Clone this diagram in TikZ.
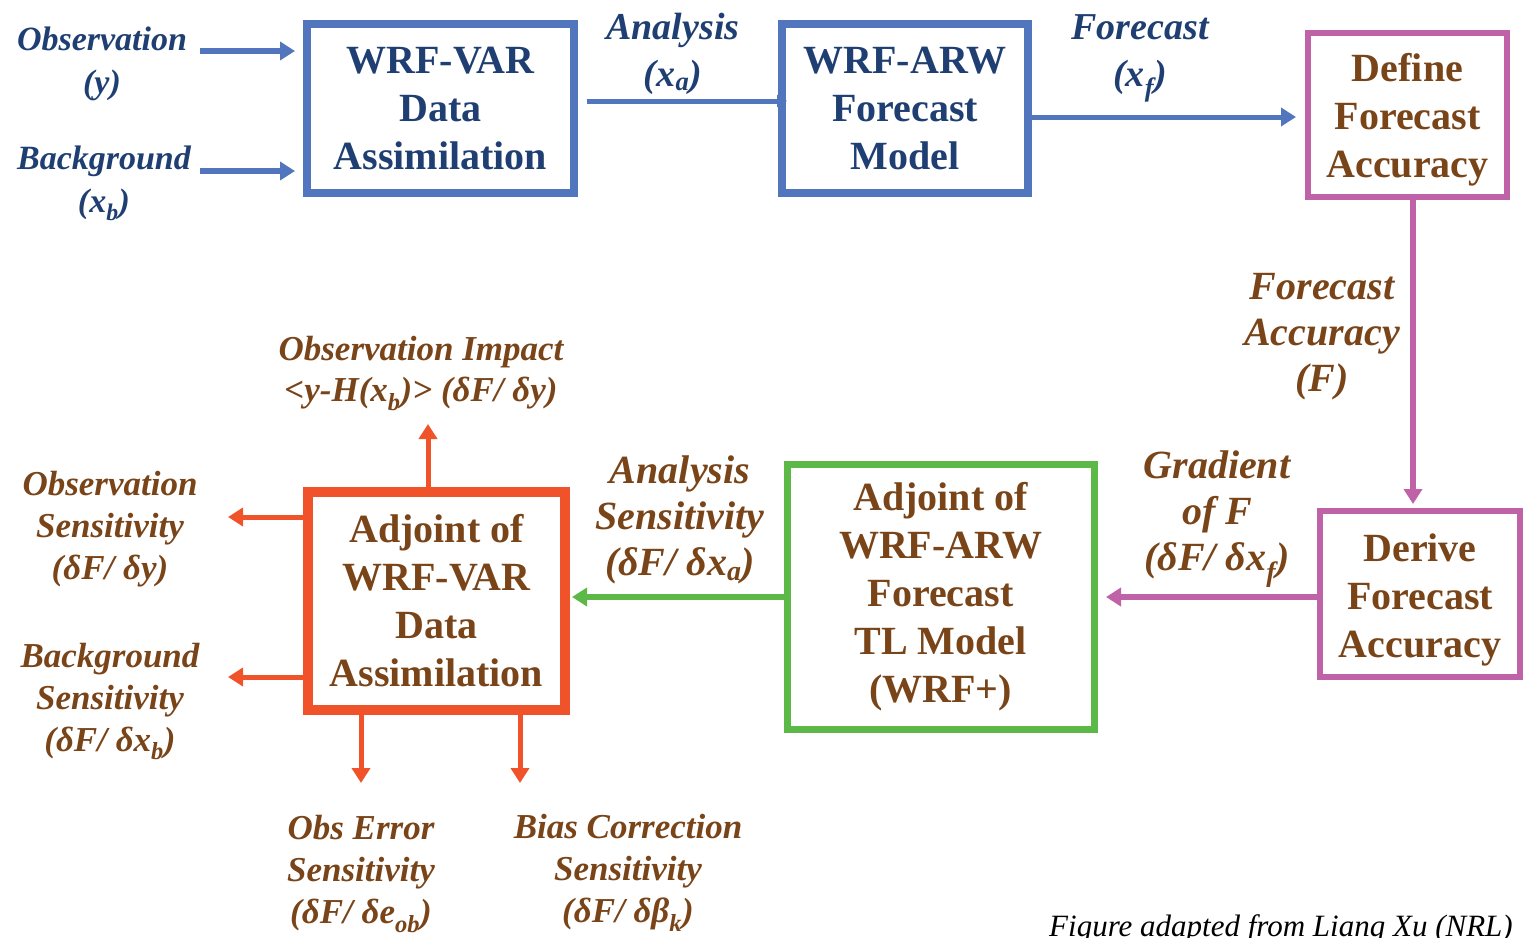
\documentclass[tikz,border=0pt]{standalone}
\usepackage{fontspec}
\setmainfont{Liberation Serif}
\usetikzlibrary{arrows.meta}
\definecolor{cblue}{HTML}{5176BD}
\definecolor{cnavy}{HTML}{1F3F73}
\definecolor{cbrown}{HTML}{7A4419}
\definecolor{cpink}{HTML}{C062A8}
\definecolor{cgreen}{HTML}{5CB947}
\definecolor{corange}{HTML}{F0522A}
\begin{document}
\begin{tikzpicture}[x=1pt,y=-1pt,
  box/.style={fill=white, outer sep=0pt, inner sep=0pt, align=center,
    font=\bfseries\fontsize{40}{48}\selectfont},
  boxtext/.style={inner sep=0pt, align=center, text=cbrown,
    font=\bfseries\fontsize{40}{48}\selectfont},
  lbl/.style={align=center, inner sep=0pt, text=cbrown,
    font=\bfseries\itshape\fontsize{40}{46}\selectfont},
  slbl/.style={align=center, inner sep=0pt, text=cbrown,
    font=\bfseries\itshape\fontsize{35}{42}\selectfont},
  blbl/.style={align=center, inner sep=0pt, text=cnavy,
    font=\bfseries\itshape\fontsize{35}{45}\selectfont},
  arr/.style={line width=6pt, -{Triangle[length=15pt,width=18pt]}},
]
\useasboundingbox (0,0) rectangle (1528,937);

% boxes
\node[box, draw=cblue, line width=8pt, text=cnavy, minimum width=267pt, minimum height=169pt]
  (wrfvar) at (440.5,108.5) {WRF-VAR\\Data\\Assimilation};
\node[box, draw=cblue, line width=8pt, text=cnavy, minimum width=246pt, minimum height=169pt]
  (wrfarw) at (905,108.5) {WRF-ARW\\Forecast\\Model};
\node[box, draw=cpink, line width=6pt, minimum width=199pt, minimum height=164pt]
  (define) at (1407.5,115) {};
\node[boxtext] (definetext) at ([yshift=-5pt]define.center) {Define\\Forecast\\Accuracy};
\node[box, draw=cpink, line width=6pt, minimum width=200pt, minimum height=166pt]
  (derive) at (1420,594) {};
\node[boxtext] (derivetext) at ([yshift=-6pt]derive.center) {Derive\\Forecast\\Accuracy};
\node[box, draw=cgreen, line width=7pt, text=cbrown, minimum width=307pt, minimum height=265pt]
  (tl) at (940.5,596.5) {Adjoint of\\WRF-ARW\\Forecast\\TL Model\\(WRF+)};
\node[box, draw=corange, line width=10pt, text=cbrown, minimum width=257pt, minimum height=218pt]
  (adj) at (436.5,601) {Adjoint of\\WRF-VAR\\Data\\Assimilation};

% labels
\node[blbl, font=\bfseries\itshape\fontsize{34}{43}\selectfont] (obsin) at (102,64) {Observation\\(y)};
\node[blbl, font=\bfseries\itshape\fontsize{34}{43}\selectfont] (bgin) at (104,183.5) {Background\\(x\textsubscript{b})};
\node[blbl, font=\bfseries\itshape\fontsize{38}{47}\selectfont] (anl) at (673,53.5) {Analysis\\(x\textsubscript{a})};
\node[blbl, font=\bfseries\itshape\fontsize{38}{47}\selectfont] (fcst) at (1140,58.5) {Forecast\\(x\textsubscript{f})};
\node[lbl] (facc) at (1322,336.5) {Forecast\\Accuracy\\(F)};
\node[lbl] (grad) at (1217,519.5) {Gradient\\of F\\(δF/ δx\textsubscript{f})};
\node[lbl] (asens) at (680,520) {Analysis\\Sensitivity\\(δF/ δx\textsubscript{a})};
\node[slbl, font=\bfseries\itshape\fontsize{35}{41}\selectfont] (oimp) at (421,373.5) {Observation Impact\\<y-H(x\textsubscript{b})> (δF/ δy)};
\node[slbl] (osens) at (110,529) {Observation\\Sensitivity\\(δF/ δy)};
\node[slbl] (bsens) at (110,701.5) {Background\\Sensitivity\\(δF/ δx\textsubscript{b})};
\node[slbl] (oerr) at (361,874) {Obs Error\\Sensitivity\\(δF/ δe\textsubscript{ob})};
\node[slbl] (bias) at (628,873) {Bias Correction\\Sensitivity\\(δF/ δβ\textsubscript{k})};
\node[anchor=base, inner sep=0pt, font=\itshape\fontsize{31}{36}\selectfont] (credit) at (1281,936)
  {Figure adapted from Liang Xu (NRL)};

% connectors
\draw[arr, cblue, line width=6.5pt] ([shift={(-107,-57.5)}]wrfvar.west) -- ([shift={(-12,-57.5)}]wrfvar.west);
\draw[arr, cblue, line width=6.5pt] ([shift={(-107,62.5)}]wrfvar.west) -- ([shift={(-12,62.5)}]wrfvar.west);
\draw[arr, cblue, line width=5pt, -{Triangle[length=10pt,width=12pt]}] ([shift={(13,-7.5)}]wrfvar.east) -- ([shift={(5,-7.5)}]wrfarw.west);
\draw[arr, cblue, line width=5pt] ([shift={(4,8.5)}]wrfarw.east) -- ([shift={(-12,2)}]define.west);
\draw[arr, cpink] ([shift={(5.5,3)}]define.south) -- ([shift={(-7,-7)}]derive.north);
\draw[arr, cpink] ([shift={(-3,3)}]derive.west) -- ([shift={(12,0.5)}]tl.east);
\draw[arr, cgreen, line width=5.5pt] ([shift={(-3,0.5)}]tl.west) -- ([shift={(7,-4)}]adj.east);
\draw[arr, corange, line width=5pt] ([shift={(-8.5,-5)}]adj.north) -- ([shift={(-8.5,-68)}]adj.north);
\draw[arr, corange, line width=5pt] ([shift={(-5,-84)}]adj.west) -- ([shift={(-80,-84)}]adj.west);
\draw[arr, corange, line width=5pt] ([shift={(-5,76)}]adj.west) -- ([shift={(-80,76)}]adj.west);
\draw[arr, corange, line width=5pt] ([shift={(-75.5,5)}]adj.south) -- ([shift={(-75.5,73)}]adj.south);
\draw[arr, corange, line width=5pt] ([shift={(83.5,5)}]adj.south) -- ([shift={(83.5,73)}]adj.south);
\end{tikzpicture}
\end{document}
